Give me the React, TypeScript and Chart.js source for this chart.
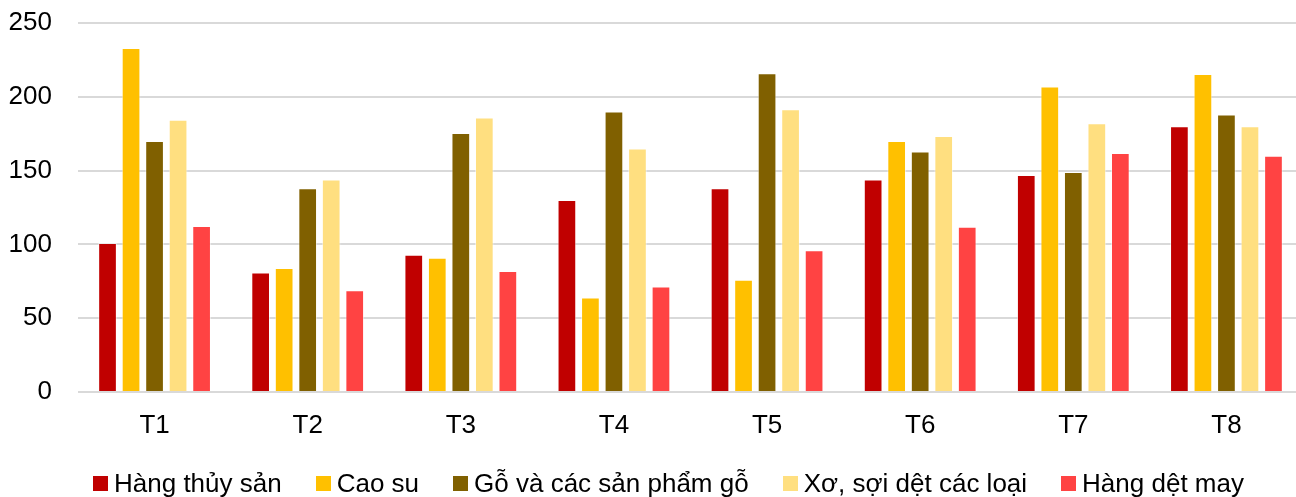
import React, { useEffect, useRef } from "react";
import { Chart, registerables } from "chart.js";

Chart.register(...registerables);

const categories = ["T1", "T2", "T3", "T4", "T5", "T6", "T7", "T8"];
const seriesNames = [
  "Hàng thủy sản",
  "Cao su",
  "Gỗ và các sản phẩm gỗ",
  "Xơ, sợi dệt các loại",
  "Hàng dệt may",
];
const hangThuySan = [101, 81, 93, 130, 138, 144, 147, 180];
const caoSu = [233, 84, 91, 64, 76, 170, 207, 215.5];
const goVaSanPhamGo = [170, 138, 175.5, 190, 216, 163, 149, 188];
const xoSoiDet = [184.5, 144, 186, 165, 191.5, 173.5, 182, 180];
const hangDetMay = [112.5, 69, 82, 71.5, 96, 112, 162, 160];
const yTicks = [0, 50, 100, 150, 200, 250];
const seriesColors = ["#C00000", "#FFC000", "#806000", "#FFDF80", "#FF4343"];

const seriesValues = [hangThuySan, caoSu, goVaSanPhamGo, xoSoiDet, hangDetMay];
const FONT = "'Liberation Sans', Arial, sans-serif";

export default function App() {
  const ref = useRef<HTMLCanvasElement>(null);

  useEffect(() => {
    if (!ref.current) return;
    const chart = new Chart(ref.current, {
      type: "bar",
      data: {
        labels: categories,
        datasets: seriesNames.map((name, i) => ({
          label: name,
          data: seriesValues[i],
          backgroundColor: seriesColors[i],
          borderColor: "rgba(255,255,255,0.5)",
          borderWidth: 1,
          barPercentage: 0.795,
          categoryPercentage: 0.768,
        })),
      },
      options: {
        responsive: false,
        maintainAspectRatio: false,
        animation: false,
        layout: { padding: { top: 23, right: 0, left: 0, bottom: 0 } },
        plugins: {
          legend: { display: false },
          title: { display: false },
          tooltip: { enabled: false },
        },
        scales: {
          x: {
            grid: { display: false },
            border: { display: false },
            ticks: {
              color: "#000",
              font: { family: FONT, size: 26 },
              padding: 10,
            },
            afterFit(scale: any) {
              scale.height = 105;
              scale.paddingLeft = 0;
              scale.paddingRight = 0;
            },
          },
          y: {
            min: yTicks[0],
            max: yTicks[yTicks.length - 1],
            afterBuildTicks(scale: any) {
              scale.ticks = yTicks.map((v) => ({ value: v }));
            },
            ticks: {
              stepSize: 50,
              color: "#000",
              font: { family: FONT, size: 26 },
              padding: 26,
            },
            grid: { color: "#D9D9D9", lineWidth: 2, drawTicks: false },
            border: { display: false },
            afterFit(scale: any) {
              scale.width = 78;
              scale.paddingTop = 0;
              scale.paddingBottom = 0;
            },
          },
        },
      },
    });
    return () => chart.destroy();
  }, []);

  return (
    <div
      style={{
        position: "fixed",
        left: 0,
        top: 0,
        width: 1296,
        height: 497,
        overflow: "hidden",
        background: "#fff",
      }}
    >
      <canvas
        ref={ref}
        width={1303}
        height={497}
        style={{ display: "block", width: 1303, height: 497 }}
      />
      <div
        style={{
          position: "absolute",
          left: 93,
          top: 468,
          display: "flex",
          flexDirection: "row",
          alignItems: "flex-start",
          fontFamily: FONT,
          fontSize: 26,
          lineHeight: "30px",
          color: "#000",
          whiteSpace: "nowrap",
        }}
      >
        {seriesNames.map((name, i) => (
          <div
            key={name}
            style={{
              display: "flex",
              alignItems: "flex-start",
              marginRight: i < seriesNames.length - 1 ? 34 : 0,
            }}
          >
            <span
              style={{
                display: "inline-block",
                width: 15,
                height: 15,
                marginTop: 8,
                marginRight: 6,
                background: seriesColors[i],
              }}
            />
            <span>{name}</span>
          </div>
        ))}
      </div>
    </div>
  );
}
